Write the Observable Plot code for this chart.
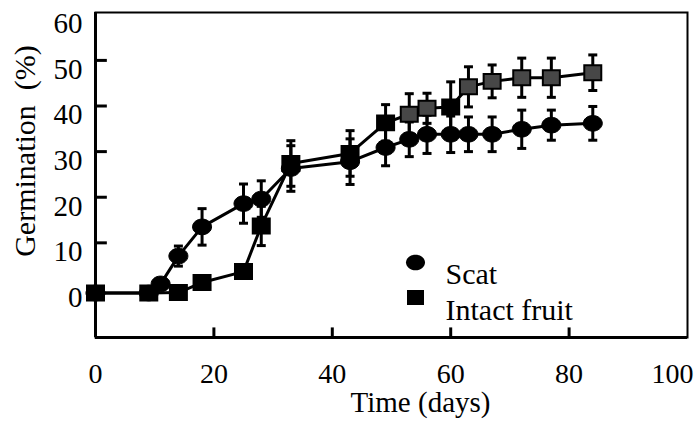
<!DOCTYPE html>
<html>
<head>
<meta charset="utf-8">
<script src="https://cdn.jsdelivr.net/npm/d3@7"></script>
<script src="https://cdn.jsdelivr.net/npm/@observablehq/plot@0.6"></script>
<style>
  html, body { margin: 0; padding: 0; background: #fff; }
  #chart svg { display: block; }
</style>
</head>
<body>
<div id="chart"></div>
<script>
// ---- data ----
const scatDays   = [0, 9, 11, 14, 18, 25, 28, 33, 43, 49, 53, 56, 60, 63, 67, 72, 77, 84];
const scatValues = [-1, -1, 1, 7.1, 13.5, 18.6, 19.6, 26.3, 27.8, 30.9, 32.7, 33.8, 33.8, 33.8, 33.8, 34.9, 35.8, 36.2];
const scatErrors = [0, 0, 0, 2.2, 4, 4.3, 4, 5, 5, 4, 3.8, 4.2, 4, 3.8, 3.8, 4.2, 3.3, 3.7];

const intactDays   = [0, 9, 14, 18, 25, 28, 33, 43, 49, 53, 56, 60, 63, 67, 72, 77, 84];
const intactValues = [-1, -1, -0.9, 1.3, 3.7, 13.7, 27.4, 29.6, 36.3, 38.2, 39.5, 39.8, 44.2, 45.4, 46.2, 46.2, 47.3];
const intactErrors = [0, 0, 0, 0, 0, 4.3, 5, 5, 4, 4.5, 3.3, 5.5, 4.4, 3.6, 4.3, 4.3, 3.9];

const xTicks = [0, 20, 40, 60, 80, 100];
const yTicks = [0, 10, 20, 30, 40, 50, 60];
const seriesNames = ["Scat", "Intact fruit"];

// ---- tables built from the arrays ----
const scat = scatDays.map((d, i) => ({day: d, value: scatValues[i], err: scatErrors[i]}));
const intact = intactDays.map((d, i) => ({day: d, value: intactValues[i], err: intactErrors[i]}));

const yMin = -10.75, yMax = 60.5;
const font = "'Liberation Serif', 'Times New Roman', serif";

// custom symbols
const ellipse = {
  draw(ctx, size) {
    const r = Math.sqrt(size / Math.PI);
    const rx = r * 1.12, ry = r * 0.92, k = 0.5523;
    ctx.moveTo(rx, 0);
    ctx.bezierCurveTo(rx, ry * k, rx * k, ry, 0, ry);
    ctx.bezierCurveTo(-rx * k, ry, -rx, ry * k, -rx, 0);
    ctx.bezierCurveTo(-rx, -ry * k, -rx * k, -ry, 0, -ry);
    ctx.bezierCurveTo(rx * k, -ry, rx, -ry * k, rx, 0);
    ctx.closePath();
  }
};
const rectSym = {
  draw(ctx, size) {
    const r = Math.sqrt(size / Math.PI);
    const w = r * 1.0, h = r * 0.88;
    ctx.moveTo(-w, -h); ctx.lineTo(w, -h); ctx.lineTo(w, h); ctx.lineTo(-w, h); ctx.closePath();
  }
};
const capSym = {
  draw(ctx, size) {
    const r = Math.sqrt(size / Math.PI);
    ctx.moveTo(-r, 0); ctx.lineTo(r, 0);
  }
};

const greySquares = new Set([53, 56, 63, 67, 72, 77, 84]);

function errorMarks(data) {
  const withErr = data.filter(d => d.err > 0);
  return [
    Plot.ruleX(withErr, {x: "day", y1: d => d.value - d.err, y2: d => d.value + d.err, stroke: "#000", strokeWidth: 3}),
    Plot.dot(withErr, {x: "day", y: d => d.value + d.err, symbol: capSym, r: 4.5, stroke: "#000", strokeWidth: 3, fill: "none"}),
    Plot.dot(withErr, {x: "day", y: d => d.value - d.err, symbol: capSym, r: 4.5, stroke: "#000", strokeWidth: 3, fill: "none"})
  ];
}

const chart = Plot.plot({
  width: 699,
  height: 427,
  marginLeft: 95,
  marginRight: 12,
  marginTop: 12,
  marginBottom: 90,
  style: {fontFamily: font, background: "#fff", color: "#000", overflow: "visible"},
  x: {domain: [0, 100], axis: null},
  y: {domain: [yMin, yMax], axis: null},
  marks: [
    // inward ticks
    Plot.ruleY(yTicks.filter(t => t > 0 && t < 60), {y: d => d, x1: 0, x2: 2, stroke: "#000", strokeWidth: 3}),
    Plot.ruleX(xTicks.filter(t => t > 0 && t < 100), {x: d => d, y1: yMin, y2: yMin + 2.1, stroke: "#000", strokeWidth: 3}),
    // frame
    Plot.frame({stroke: "#000", strokeWidth: 2}),
    Plot.ruleX([0], {y1: yMin, y2: yMax, stroke: "#000", strokeWidth: 3}),
    Plot.ruleY([yMin], {x1: 0, x2: 100, stroke: "#000", strokeWidth: 3}),
    // tick labels
    Plot.text(yTicks, {x: 0, y: d => d, text: d => String(d), textAnchor: "end", dx: -13, dy: 9, fontSize: 29, fill: "#000"}),
    Plot.text(xTicks.filter(t => t < 100), {x: d => d, y: yMin, text: d => String(d), dy: 37, fontSize: 28, fill: "#000"}),
    Plot.text(xTicks.filter(t => t === 100), {x: d => d, y: yMin, text: d => String(d), textAnchor: "end", dx: 6, dy: 37, fontSize: 28, fill: "#000"}),
    // axis titles
    Plot.text(["Time (days)"], {frameAnchor: "bottom", dx: 29, dy: 74, fontSize: 29, fill: "#000"}),
    Plot.text(["Germination  (%)"], {frameAnchor: "left", textAnchor: "middle", dx: -70, dy: -24, rotate: -90, fontSize: 30, fill: "#000"}),
    // series: scat
    Plot.line(scat, {x: "day", y: "value", stroke: "#000", strokeWidth: 3}),
    ...errorMarks(scat),
    Plot.dot(scat, {x: "day", y: "value", symbol: ellipse, r: 8.5, fill: "#000", stroke: "#000", strokeWidth: 1}),
    // series: intact fruit
    Plot.line(intact, {x: "day", y: "value", stroke: "#000", strokeWidth: 3}),
    ...errorMarks(intact),
    Plot.dot(intact, {x: "day", y: "value", symbol: rectSym, r: 8.5,
      fill: d => greySquares.has(d.day) ? "#474747" : "#000", stroke: "#000", strokeWidth: 2}),
    // legend
    Plot.dot([seriesNames[0]], {frameAnchor: "top-left", dx: 320, dy: 250, symbol: ellipse, r: 8.5, fill: "#000"}),
    Plot.dot([seriesNames[1]], {frameAnchor: "top-left", dx: 320, dy: 285, symbol: rectSym, r: 8.5, fill: "#000"}),
    Plot.text([seriesNames[0]], {frameAnchor: "top-left", dx: 350, dy: 250, text: d => d, textAnchor: "start", fontSize: 30, fill: "#000"}),
    Plot.text([seriesNames[1]], {frameAnchor: "top-left", dx: 350, dy: 286, text: d => d, textAnchor: "start", fontSize: 30, fill: "#000"})
  ]
});
document.getElementById("chart").appendChild(chart);
</script>
</body>
</html>
